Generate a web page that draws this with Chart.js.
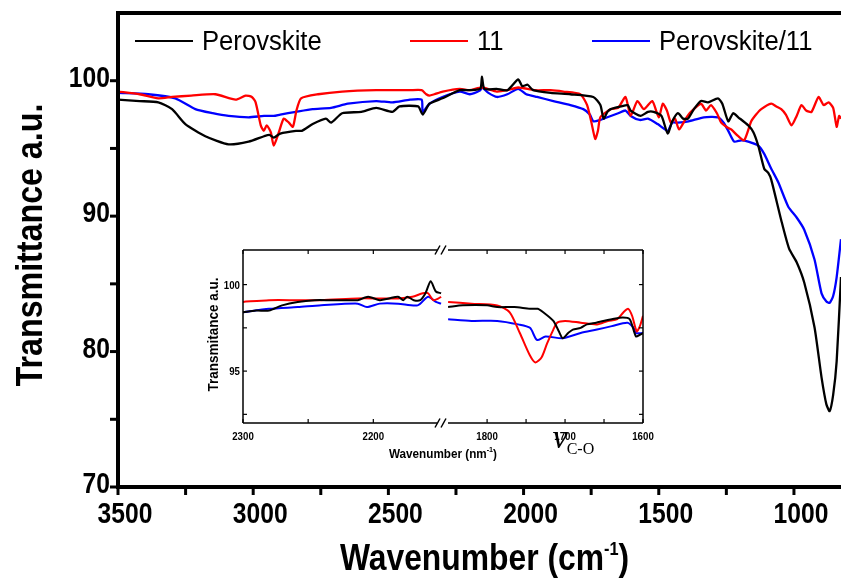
<!DOCTYPE html>
<html>
<head>
<meta charset="utf-8">
<script src="https://cdn.jsdelivr.net/npm/chart.js@4.4.1/dist/chart.umd.min.js"></script>
<style>
  html, body { margin: 0; padding: 0; background: #fff; }
  #wrap { position: relative; width: 841px; height: 579px; overflow: hidden; }
  #main { position: absolute; left: 0; top: 0; }
  #inset { position: absolute; left: 160px; top: 240px; }
</style>
</head>
<body>
<div id="wrap">
  <canvas id="main" width="841" height="579"></canvas>
  <canvas id="inset" width="500" height="230"></canvas>
</div>
<script>
// ---- main spectrum (wavenumber cm-1 / transmittance) ----
var perovskiteWn = [3500,3420,3351,3300,3251,3177,3091,3017,2960,2940,2924,2900,2842,2820,2780,2731,2712,2671,2600,2545,2485,2459,2390,2373,2348,2300,2236,2199,2160,2154,2145,2100,2060,2020,2005,1985,1965,1900,1827,1742,1716,1704,1690,1678,1640,1615,1604,1567,1540,1519,1490,1467,1450,1429,1410,1392,1370,1344,1318,1281,1265,1243,1225,1206,1169,1150,1132,1110,1095,1084,1047,1018,990,962,924,898,880,868,855,842,826];
var perovskiteT  = [98.6,98.5,98.4,97.9,96.8,95.9,95.3,95.5,95.9,96.0,95.8,96.1,96.3,96.3,96.8,97.2,96.9,97.6,97.7,98.0,97.7,98.1,98.1,97.5,98.3,98.7,99.3,99.3,99.4,100.3,99.4,99.4,99.3,100.1,99.6,99.7,99.3,99.1,99.0,98.8,98.2,97.2,97.7,97.9,98.1,98.2,97.8,97.4,97.7,97.7,97.4,96.1,97.0,97.6,97.2,97.2,97.9,98.5,98.4,98.7,98.3,97.0,97.6,97.3,96.7,96.2,95.2,93.5,93.2,92.7,89.7,87.6,86.6,85.1,81.8,78.1,76.1,75.6,76.8,79.3,85.5];

var sample11Wn = [3500,3420,3351,3300,3229,3140,3065,3028,3005,2991,2972,2961,2950,2935,2924,2905,2887,2868,2853,2840,2823,2760,2671,2545,2420,2377,2360,2348,2330,2299,2236,2199,2154,2099,2060,2020,1960,1900,1853,1790,1765,1750,1735,1725,1716,1678,1650,1623,1604,1579,1555,1524,1500,1485,1470,1455,1440,1425,1400,1381,1344,1325,1307,1285,1269,1250,1232,1206,1184,1158,1140,1121,1084,1065,1047,1030,1009,990,972,955,935,909,890,872,855,842,833,826];
var sample11T  = [99.2,99.0,98.7,98.8,98.9,99.0,98.6,98.9,98.8,98.4,96.7,96.3,96.7,96.2,95.2,96.2,97.2,96.9,96.6,97.8,98.7,99.0,99.2,99.3,99.3,99.3,99.0,98.9,99.0,99.2,99.4,99.3,99.5,99.2,99.3,99.5,99.3,99.3,99.2,99.0,98.2,97.0,95.7,96.3,97.3,97.9,98.0,98.8,97.4,98.5,97.9,98.5,97.3,98.3,97.8,96.9,97.2,96.4,97.2,97.7,98.3,97.8,98.2,97.6,96.9,96.6,96.4,95.9,95.6,97.0,97.5,97.9,98.3,98.1,97.9,97.5,96.7,97.4,98.2,97.8,97.7,98.8,98.2,98.4,98.0,96.6,97.4,97.2];

var mixWn = [3500,3388,3288,3214,3150,3091,3017,2960,2924,2900,2842,2780,2712,2650,2545,2485,2420,2377,2373,2348,2300,2236,2199,2160,2154,2130,2099,2060,2020,1990,1950,1890,1827,1779,1755,1742,1716,1690,1650,1623,1604,1570,1540,1504,1467,1450,1429,1390,1333,1281,1260,1243,1221,1195,1169,1132,1110,1084,1058,1021,990,962,924,898,880,868,855,842,826];
var mixT  = [99.1,99.0,98.7,97.9,97.6,97.4,97.3,97.4,97.4,97.5,97.7,97.9,98.0,98.3,98.5,98.4,98.6,98.6,97.7,98.3,98.8,99.2,99.0,99.3,99.5,99.1,98.8,99.0,99.4,99.0,98.8,98.5,98.2,97.9,97.5,97.0,97.1,97.3,97.6,97.8,97.4,97.1,97.2,96.8,96.3,96.9,96.9,97.0,97.3,97.3,96.9,96.3,95.5,95.6,95.5,95.2,94.6,93.5,92.5,90.7,89.9,89.0,86.8,84.3,83.7,83.6,84.1,85.5,88.3];

var mainXTicks = [3500,3250,3000,2750,2500,2250,2000,1750,1500,1250,1000];
var mainXLabels = ['3500','','3000','','2500','','2000','','1500','','1000'];
var mainYTicks = [70,75,80,85,90,95,100];
var mainYLabels = ['70','','80','','90','','100'];

// ---- inset (broken axis: 2300-2145 | 1854-1600) ----
var inBlackWnA = [2300,2290,2280,2270,2258,2245,2233,2220,2212,2204,2195,2188,2181,2177,2174,2169,2164,2160,2156,2152,2148];
var inBlackTA  = [98.4,98.5,98.5,98.8,99.0,99.1,99.1,99.1,99.1,99.3,99.1,99.2,99.3,99.1,99.3,99.1,99.1,99.5,100.2,99.6,99.5];
var inRedWnA = [2300,2280,2258,2240,2212,2195,2181,2170,2162,2158,2154,2150,2148];
var inRedTA  = [99.0,99.1,99.1,99.1,99.2,99.2,99.2,99.3,99.5,99.5,99.1,99.2,99.3];
var inBlueWnA = [2300,2280,2258,2240,2212,2205,2195,2181,2166,2158,2152,2148];
var inBlueTA  = [98.4,98.6,98.7,98.8,98.9,98.7,98.9,98.9,98.8,99.3,99.0,98.9];

var inBlackWnB = [1850,1831,1800,1787,1765,1745,1735,1728,1715,1708,1703,1696,1690,1680,1672,1660,1651,1640,1626,1617,1609,1604,1600];
var inBlackTB  = [98.7,98.8,98.8,98.7,98.7,98.6,98.6,98.4,97.9,97.3,96.9,97.2,97.4,97.5,97.7,97.8,97.9,98.0,98.1,98.0,97.0,97.1,97.2];
var inRedWnB = [1850,1820,1787,1771,1758,1745,1738,1730,1723,1715,1710,1700,1680,1659,1645,1633,1625,1619,1614,1608,1604,1600];
var inRedTB  = [99.0,98.9,98.8,98.4,97.2,95.9,95.5,95.8,96.6,97.4,97.8,97.9,97.8,97.7,97.9,98.0,98.4,98.6,98.2,97.3,97.6,98.2];
var inBlueWnB = [1850,1820,1787,1760,1745,1736,1725,1703,1680,1659,1640,1620,1612,1609,1600];
var inBlueTB  = [98.0,97.9,97.9,97.7,97.5,96.8,97.0,96.9,97.2,97.4,97.6,97.8,97.5,97.2,97.2];

var inXTicksA = [2300,2250,2200];
var inXLabelsA = ['2300','','2200'];
var inXTicksB = [1800,1750,1700,1650,1600];
var inXLabelsB = ['1800','','1700','','1600'];
var inYTicks = [92.5,95,97.5,100];
var inYLabels = ['','95','','100'];

var BLACK = '#000000', RED = '#ff0000', BLUE = '#0000ff';
var SANS = '"Liberation Sans", Arial, sans-serif';
var SERIF = '"Liberation Serif", "Times New Roman", serif';

function pts(wn, t) {
  return wn.map(function (w, i) { return {x: w, y: t[i]}; });
}

// draw text squeezed horizontally (the original uses a narrow bold face)
function sqText(ctx, txt, x, y, sx, align) {
  ctx.save();
  ctx.translate(x, y);
  ctx.scale(sx, 1);
  ctx.textAlign = align || 'left';
  ctx.fillText(txt, 0, 0);
  ctx.restore();
}

function seg(ctx, x1, y1, x2, y2) {
  ctx.beginPath();
  ctx.moveTo(x1, y1);
  ctx.lineTo(x2, y2);
  ctx.stroke();
}

var mainDecor = {
  id: 'mainDecor',
  afterDraw: function (chart) {
    var ctx = chart.ctx, a = chart.chartArea;
    var xs = chart.scales.x, ys = chart.scales.y;
    ctx.save();
    ctx.strokeStyle = '#000';
    ctx.fillStyle = '#000';
    ctx.lineWidth = 4;
    seg(ctx, a.left, a.top - 2, a.left, a.bottom + 2);
    seg(ctx, a.left - 2, a.bottom, a.right, a.bottom);
    seg(ctx, a.left - 2, a.top, a.right, a.top);

    ctx.lineWidth = 3;
    ctx.font = 'bold 29px ' + SANS;
    ctx.textBaseline = 'alphabetic';
    mainXTicks.forEach(function (v, i) {
      var px = xs.getPixelForValue(v);
      seg(ctx, px, a.bottom, px, a.bottom + 8);
      if (mainXLabels[i]) sqText(ctx, mainXLabels[i], px + 7, a.bottom + 36, 0.85, 'center');
    });
    mainYTicks.forEach(function (v, i) {
      var py = ys.getPixelForValue(v);
      seg(ctx, a.left - 8, py, a.left, py);
      if (mainYLabels[i]) sqText(ctx, mainYLabels[i], a.left - 8, py + 6, 0.85, 'right');
    });

    // axis titles
    ctx.font = 'bold 37px ' + SANS;
    ctx.save();
    ctx.translate(42, (a.top + a.bottom) / 2 - 5);
    ctx.rotate(-Math.PI / 2);
    sqText(ctx, 'Transmittance a.u.', 0, 0, 0.87, 'center');
    ctx.restore();

    var sx = 0.86;
    var t1 = 'Wavenumber (cm', t2 = '-1', t3 = ')';
    ctx.font = 'bold 37px ' + SANS;
    var w1 = ctx.measureText(t1).width * sx, w3 = ctx.measureText(t3).width * sx;
    ctx.font = 'bold 19px ' + SANS;
    var w2 = ctx.measureText(t2).width * sx;
    var x0 = (a.left + a.right) / 2 + 5 - (w1 + w2 + w3) / 2;
    var yb = 570;
    ctx.font = 'bold 37px ' + SANS;
    sqText(ctx, t1, x0, yb, sx);
    sqText(ctx, t3, x0 + w1 + w2, yb, sx);
    ctx.font = 'bold 19px ' + SANS;
    sqText(ctx, t2, x0 + w1, yb - 15, sx);

    // legend
    var items = [['Perovskite', BLACK, 135], ['11', RED, 410], ['Perovskite/11', BLUE, 592]];
    ctx.font = '27px ' + SANS;
    ctx.lineWidth = 2;
    items.forEach(function (it) {
      ctx.strokeStyle = it[1];
      seg(ctx, it[2], 41, it[2] + 58, 41);
      ctx.fillStyle = '#000';
      sqText(ctx, it[0], it[2] + 67, 50, 0.95);
    });
    ctx.restore();
  }
};

new Chart(document.getElementById('main'), {
  type: 'line',
  data: {
    datasets: [
      {label: 'Perovskite', data: pts(perovskiteWn, perovskiteT), borderColor: BLACK},
      {label: '11', data: pts(sample11Wn, sample11T), borderColor: RED},
      {label: 'Perovskite/11', data: pts(mixWn, mixT), borderColor: BLUE}
    ]
  },
  options: {
    responsive: false,
    animation: false,
    layout: {padding: {top: 13, right: 0, left: 0, bottom: 0}},
    elements: {point: {radius: 0}, line: {borderWidth: 2.3, tension: 0.2}},
    plugins: {legend: {display: false}, tooltip: {enabled: false}},
    scales: {
      x: {
        type: 'linear', reverse: true, min: 826, max: 3500,
        grid: {display: false}, border: {display: false}, ticks: {display: false},
        afterBuildTicks: function (s) { s.ticks = mainXTicks.map(function (v) { return {value: v}; }); },
        afterFit: function (s) { s.height = 92; }
      },
      y: {
        type: 'linear', min: 70, max: 105,
        grid: {display: false}, border: {display: false}, ticks: {display: false},
        afterBuildTicks: function (s) { s.ticks = mainYTicks.map(function (v) { return {value: v}; }); },
        afterFit: function (s) { s.width = 118; }
      }
    }
  },
  plugins: [mainDecor]
});

var insetDecor = {
  id: 'insetDecor',
  afterDraw: function (chart) {
    var ctx = chart.ctx, a = chart.chartArea;
    var xa = chart.scales.xa, xb = chart.scales.xb, ys = chart.scales.y;
    var bx = xa.right;
    ctx.save();
    ctx.strokeStyle = '#000';
    ctx.fillStyle = '#000';
    ctx.lineWidth = 1.5;
    seg(ctx, a.left, a.top, a.left, a.bottom);
    seg(ctx, a.right, a.top, a.right, a.bottom);
    [a.top, a.bottom].forEach(function (yy) {
      seg(ctx, a.left, yy, bx - 8, yy);
      seg(ctx, bx + 3, yy, a.right, yy);
      seg(ctx, bx - 10, yy + 4.5, bx - 5, yy - 4.5);
      seg(ctx, bx - 4, yy + 4.5, bx + 1, yy - 4.5);
    });

    ctx.lineWidth = 1.2;
    ctx.font = 'bold 11px ' + SANS;
    function xTicks(scale, vals, labels) {
      vals.forEach(function (v, i) {
        var px = scale.getPixelForValue(v);
        seg(ctx, px, a.bottom, px, a.bottom - 4);
        seg(ctx, px, a.top, px, a.top + 4);
        if (labels[i]) sqText(ctx, labels[i], px, a.bottom + 17, 0.88, 'center');
      });
    }
    xTicks(xa, inXTicksA, inXLabelsA);
    xTicks(xb, inXTicksB, inXLabelsB);
    inYTicks.forEach(function (v, i) {
      var py = ys.getPixelForValue(v);
      seg(ctx, a.left, py, a.left + 4, py);
      seg(ctx, a.right, py, a.right - 4, py);
      if (inYLabels[i]) sqText(ctx, inYLabels[i], a.left - 3, py + 4, 0.88, 'right');
    });

    ctx.font = 'bold 15px ' + SANS;
    ctx.save();
    ctx.translate(58, (a.top + a.bottom) / 2 - 2);
    ctx.rotate(-Math.PI / 2);
    sqText(ctx, 'Transmitance a.u.', 0, 0, 0.9, 'center');
    ctx.restore();

    var sx = 0.9;
    var t1 = 'Wavenumber (nm', t2 = '-1', t3 = ')';
    ctx.font = 'bold 13px ' + SANS;
    var w1 = ctx.measureText(t1).width * sx, w3 = ctx.measureText(t3).width * sx;
    ctx.font = 'bold 8px ' + SANS;
    var w2 = ctx.measureText(t2).width * sx;
    var x0 = (a.left + a.right) / 2 - (w1 + w2 + w3) / 2;
    var yb = a.bottom + 35;
    ctx.font = 'bold 13px ' + SANS;
    sqText(ctx, t1, x0, yb, sx);
    sqText(ctx, t3, x0 + w1 + w2, yb, sx);
    ctx.font = 'bold 8px ' + SANS;
    sqText(ctx, t2, x0 + w1, yb - 6, sx);

    // nu C-O annotation
    ctx.font = 'italic 34px ' + SERIF;
    var nx = xb.getPixelForValue(1716);
    ctx.fillText('\u03bd', nx, a.bottom + 25);
    var nw = ctx.measureText('\u03bd').width;
    ctx.font = '16px ' + SERIF;
    ctx.fillText('C-O', nx + nw - 1, a.bottom + 31);
    ctx.restore();
  }
};

function insetSet(wn, t, color, axis) {
  return {data: pts(wn, t), borderColor: color, xAxisID: axis, yAxisID: 'y'};
}

new Chart(document.getElementById('inset'), {
  type: 'line',
  data: {
    datasets: [
      insetSet(inBlackWnA, inBlackTA, BLACK, 'xa'),
      insetSet(inRedWnA, inRedTA, RED, 'xa'),
      insetSet(inBlueWnA, inBlueTA, BLUE, 'xa'),
      insetSet(inBlackWnB, inBlackTB, BLACK, 'xb'),
      insetSet(inRedWnB, inRedTB, RED, 'xb'),
      insetSet(inBlueWnB, inBlueTB, BLUE, 'xb')
    ]
  },
  options: {
    responsive: false,
    animation: false,
    layout: {padding: {top: 10, right: 17, left: 0, bottom: 0}},
    elements: {point: {radius: 0}, line: {borderWidth: 2, tension: 0.25}},
    plugins: {legend: {display: false}, tooltip: {enabled: false}},
    scales: {
      xa: {
        type: 'linear', axis: 'x', position: 'bottom', stack: 'brk', stackWeight: 202,
        reverse: true, min: 2145, max: 2300,
        grid: {display: false}, border: {display: false}, ticks: {display: false},
        afterFit: function (s) { s.height = 47; }
      },
      xb: {
        type: 'linear', axis: 'x', position: 'bottom', stack: 'brk', stackWeight: 198,
        reverse: true, min: 1600, max: 1854,
        grid: {display: false}, border: {display: false}, ticks: {display: false},
        afterFit: function (s) { s.height = 47; }
      },
      y: {
        type: 'linear', min: 92, max: 102,
        grid: {display: false}, border: {display: false}, ticks: {display: false},
        afterFit: function (s) { s.width = 83; }
      }
    }
  },
  plugins: [insetDecor]
});
</script>
</body>
</html>
